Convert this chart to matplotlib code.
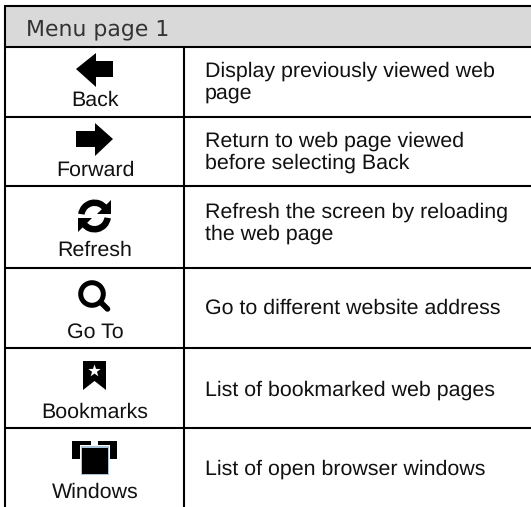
import numpy as np
import matplotlib
matplotlib.use("Agg")
import matplotlib.pyplot as plt
from matplotlib.patches import Polygon, Rectangle, Circle, Wedge

plt.rcParams["text.hinting"] = "no_hinting"

W, H = 531, 507
header = "Menu page 1"
labels = ["Back", "Forward", "Refresh", "Go To", "Bookmarks", "Windows"]
descriptions = [
    ["Display previously viewed web", "page"],
    ["Return to web page viewed", "before selecting Back"],
    ["Refresh the screen by reloading", "the web page"],
    ["Go to different website address"],
    ["List of bookmarked web pages"],
    ["List of open browser windows"],
]
row_edges = [47, 117, 186, 268, 348, 428]
label_base = [106, 176, 256, 338, 418, 498]
desc_base = [[77, 99], [147, 169], [218, 240], [314], [396], [475]]

fig = plt.figure(figsize=(W / 100, H / 100), dpi=100)
ax = fig.add_axes([0, 0, 1, 1])
ax.set_xlim(0, W)
ax.set_ylim(H, 0)
ax.axis("off")

LEFT, TOP, MID = 5, 6, 184
LW = 1.5
ink = "#000000"
ax.add_patch(Rectangle((LEFT, TOP), W - LEFT, 41, fc="#d9d9d9", ec="none", zorder=0))
ax.plot([LEFT, W], [TOP, TOP], color=ink, lw=LW, solid_capstyle="butt")
ax.plot([LEFT, LEFT], [TOP - 1, H], color=ink, lw=LW, solid_capstyle="butt")
ax.plot([MID, MID], [row_edges[0], H], color=ink, lw=LW, solid_capstyle="butt")
for y in row_edges:
    ax.plot([LEFT, W], [y, y], color=ink, lw=LW, solid_capstyle="butt")

ax.text(26, 35, header, family="DejaVu Sans", fontsize=15.8, color="#333333",
        va="baseline", ha="left")
for name, y in zip(labels, label_base):
    ax.text(95, y, name, family="Liberation Sans", fontsize=15.4, color="#111111",
            ha="center", va="baseline")
for lines, ys in zip(descriptions, desc_base):
    for line, y in zip(lines, ys):
        ax.text(205, y, line, family="Liberation Sans", fontsize=15.4, color="#111111",
                ha="left", va="baseline")

# Back
ax.add_patch(Polygon([(76, 69), (96, 53), (96, 61), (113, 61), (113, 77), (96, 77), (96, 87)], fc=ink, ec="none"))
# Forward
ax.add_patch(Polygon([(113, 139), (95, 123), (95, 131), (76, 131), (76, 147), (95, 147), (95, 156)], fc=ink, ec="none"))
# Refresh
cx, cy = 94.5, 216
ax.add_patch(Wedge((cx, cy), 16.5, 188, 325, width=6.5, fc=ink, ec="none"))
ax.add_patch(Wedge((cx, cy), 16.5, 8, 145, width=6.5, fc=ink, ec="none"))
ax.add_patch(Polygon([(111, 200), (111, 214), (97, 214)], fc=ink, ec="none"))
ax.add_patch(Polygon([(78, 232), (78, 218), (92, 218)], fc=ink, ec="none"))
# Go To
ax.add_patch(Circle((92, 294), 11.3, fc="none", ec=ink, lw=3.6))
ax.plot([101, 107.5], [302.5, 309], color=ink, lw=4, solid_capstyle="round")
# Bookmarks
ax.add_patch(Polygon([(83, 361), (106, 361), (106, 390), (94.5, 381), (83, 390)], fc=ink, ec="none"))
ang = np.deg2rad(np.arange(10) * 36 - 90)
rad = np.where(np.arange(10) % 2 == 0, 6.5, 2.6)
ax.add_patch(Polygon(np.c_[94.5 + rad * np.cos(ang), 371 + rad * np.sin(ang)], fc="white", ec="none"))
# Windows
ax.add_patch(Rectangle((72, 441), 19, 18, fc=ink, ec="none"))
ax.add_patch(Rectangle((98, 441), 19, 18, fc=ink, ec="none"))
ax.add_patch(Rectangle((79.5, 445), 30, 30, fc="white", ec="none"))
ax.add_patch(Rectangle((80.5, 446), 28, 28.5, fc="#a9c4d8", ec="none"))
ax.add_patch(Rectangle((82, 447.5), 25.5, 26.5, fc=ink, ec="none"))

fig.savefig("out.png", dpi=100)
